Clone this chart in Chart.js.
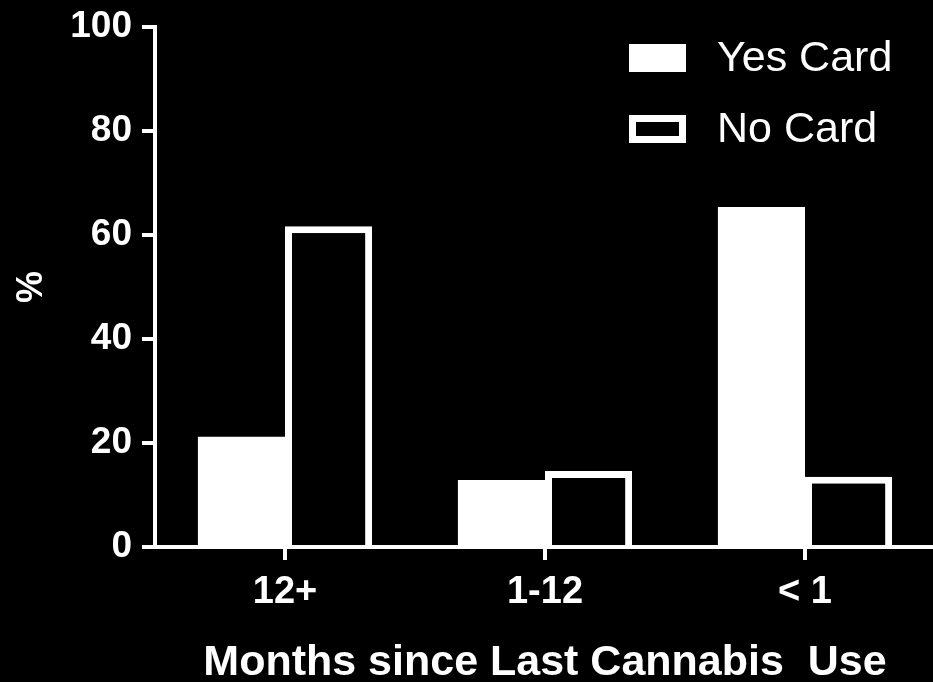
<!DOCTYPE html>
<html>
<head>
<meta charset="utf-8">
<script src="https://cdn.jsdelivr.net/npm/chart.js@4.4.1/dist/chart.umd.min.js"></script>
<style>
  html, body { margin: 0; padding: 0; background: #000; overflow: hidden; }
  #wrap { width: 940px; height: 682px; }
</style>
</head>
<body>
<div id="wrap"><canvas id="chart"></canvas></div>
<script>
// months since last use, share of respondents (%)
const categories = ['12+', '1-12', '< 1'];
const yesCard = [21.2, 12.9, 65.4];
const noCard = [61.7, 14.6, 13.5];
const yTicks = [0, 20, 40, 60, 80, 100];

const FONT = '"Liberation Sans", Arial, sans-serif';

// legend drawn inside the plot, top right
const boxLegend = {
  id: 'boxLegend',
  afterDraw(chart) {
    const ctx = chart.ctx;
    ctx.save();
    ctx.font = '43px ' + FONT;
    ctx.textBaseline = 'middle';
    ctx.textAlign = 'left';
    chart.data.datasets.forEach((ds, i) => {
      const x = 629, y = 44 + i * 71, w = 57, h = 28;
      ctx.fillStyle = ds.backgroundColor;
      ctx.fillRect(x, y, w, h);
      if (ds.borderWidth) {
        ctx.strokeStyle = ds.borderColor;
        ctx.lineWidth = 7;
        ctx.strokeRect(x + 3.5, y + 3.5, w - 7, h - 7);
      }
      ctx.fillStyle = '#fff';
      ctx.fillText(ds.label, 717, y + h / 2 + 1);
    });
    ctx.restore();
  }
};

new Chart(document.getElementById('chart'), {
  type: 'bar',
  data: {
    labels: categories,
    datasets: [
      { label: 'Yes Card', data: yesCard, backgroundColor: '#fff', borderWidth: 0 },
      { label: 'No Card', data: noCard, backgroundColor: '#000', borderColor: '#fff', borderWidth: 7 }
    ]
  },
  options: {
    responsive: true,
    maintainAspectRatio: false,
    animation: false,
    layout: { padding: { top: 27, right: 5, left: 0, bottom: 0 } },
    datasets: { bar: { categoryPercentage: 0.67, barPercentage: 1.0 } },
    plugins: { legend: { display: false }, tooltip: { enabled: false } },
    scales: {
      x: {
        afterFit: s => { s.height = 135; s.paddingLeft = 0; s.paddingRight = 0; },
        grid: { offset: false, drawOnChartArea: false, color: '#fff', lineWidth: 4, tickLength: 13 },
        border: { color: '#fff', width: 4 },
        ticks: { color: '#fff', padding: 10, font: { family: FONT, size: 38, weight: 'bold' } },
        title: {
          display: true, text: 'Months since Last Cannabis  Use', color: '#fff',
          font: { family: FONT, size: 43, weight: 'bold', lineHeight: 0.86 },
          padding: { top: 0, bottom: 0 }
        }
      },
      y: {
        min: 0, max: 100,
        afterFit: s => { s.width = 155; s.paddingTop = 0; s.paddingBottom = 0; },
        afterBuildTicks: s => { s.ticks = yTicks.map(v => ({ value: v })); },
        grid: { drawOnChartArea: false, color: '#fff', lineWidth: 4, tickLength: 13 },
        border: { color: '#fff', width: 4 },
        ticks: { color: '#fff', padding: 10, font: { family: FONT, size: 37, weight: 'bold' } },
        title: {
          display: true, text: '%', color: '#fff',
          font: { family: FONT, size: 36, weight: 'bold' },
          padding: { top: 10, bottom: 0 }
        }
      }
    }
  },
  plugins: [boxLegend]
});
</script>
</body>
</html>
